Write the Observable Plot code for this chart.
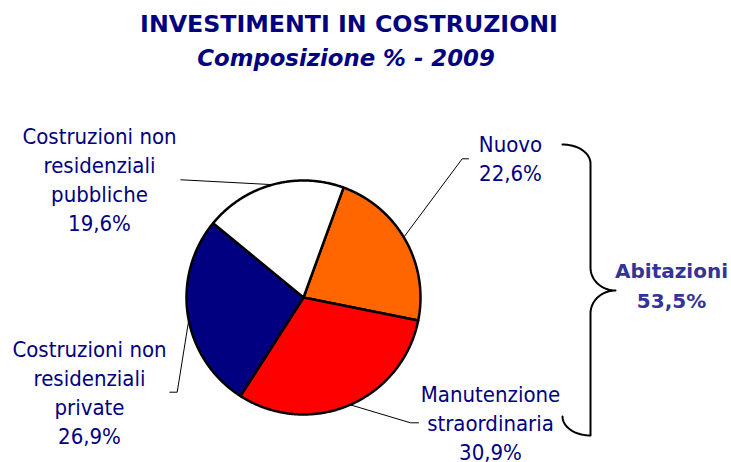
<!DOCTYPE html>
<html>
<head>
<meta charset="utf-8">
<script src="https://cdn.jsdelivr.net/npm/d3@7"></script>
<script src="https://cdn.jsdelivr.net/npm/@observablehq/plot@0.6"></script>
<style>
  html, body { margin: 0; padding: 0; background: #fff; }
  #wrap { width: 731px; height: 462px; position: relative; overflow: hidden; }
  #head { position: relative; width: 731px; height: 80px; }
  .t { position: absolute; white-space: nowrap; text-align: center; color: #000080; font-family: "DejaVu Sans", sans-serif; font-weight: bold; }
  #title { left: 0; width: 698px; top: 13px; font-size: 23.7px; line-height: 23.7px; }
  #subtitle { left: 0; width: 692px; top: 47px; font-size: 22.8px; line-height: 22.8px; font-style: italic; }
  svg { display: block; }
</style>
</head>
<body>
<div id="wrap">
  <div id="head">
    <div class="t" id="title">INVESTIMENTI IN COSTRUZIONI</div>
    <div class="t" id="subtitle">Composizione % - 2009</div>
  </div>
  <div id="chart"></div>
</div>
<script>
// ---- data ----
const categories = ["Nuovo", "Manutenzione straordinaria", "Costruzioni non residenziali private", "Costruzioni non residenziali pubbliche"];
const values = [22.6, 30.9, 26.9, 19.6];
const labelNames = ["Nuovo", "Manutenzione\nstraordinaria", "Costruzioni non\nresidenziali\nprivate", "Costruzioni non\nresidenziali\npubbliche"];
const sliceColors = ["#FF6600", "#FF0000", "#000080", "#FFFFFF"];
const groupName = "Abitazioni";
const groupValue = 53.5;
const groupMembers = ["Nuovo", "Manutenzione straordinaria"];

// ---- layout (pixels within the SVG) ----
const W = 731, H = 382;
const pie = {cx: 303, cy: 217, r: 117, startDeg: 20};
const lineGap = 29;
const labelLayout = {
  "Nuovo": {x: 510, y: 71.7, leader: [[468, 78.3], [461.7, 78.3]], edgeDeg: 59},
  "Manutenzione straordinaria": {x: 490, y: 321.7, leader: [[418, 342.3], [410, 342.3]], edgeDeg: 156.5},
  "Costruzioni non residenziali private": {x: 89, y: 276.7, leader: [[169.3, 311.7], [176.7, 311.7]], edgeDeg: 258.8},
  "Costruzioni non residenziali pubbliche": {x: 99, y: 63.3, leader: [[180.3, 99.3]], edgeDeg: 344.7}
};
const brace = {xEnd: 562, xMid: 590, xTip: 615, yTop: 64, yTip: 210, yBot: 355, curveTop: 19, curveMid: 23};
const groupLabel = {x: 671, y: 198};

const fmt = v => v.toFixed(1).replace(".", ",") + "%";
const rad = d => d * Math.PI / 180;
const polar = (deg, rr = pie.r) => [pie.cx + rr * Math.sin(rad(deg)), pie.cy - rr * Math.cos(rad(deg))];

// slices as closed polygons
const total = d3.sum(values);
const slicePts = [];
let acc = 0;
categories.forEach((c, i) => {
  const a0 = pie.startDeg + acc / total * 360;
  const a1 = a0 + values[i] / total * 360;
  acc += values[i];
  slicePts.push({name: c, x: pie.cx, y: pie.cy});
  const n = Math.ceil(a1 - a0) * 2;
  for (let k = 0; k <= n; k++) {
    const [x, y] = polar(a0 + (a1 - a0) * k / n);
    slicePts.push({name: c, x, y});
  }
});

// leaders
const leaderPts = [];
categories.forEach(c => {
  const L = labelLayout[c];
  L.leader.forEach(([x, y]) => leaderPts.push({id: c, x, y}));
  const [ex, ey] = polar(L.edgeDeg);
  leaderPts.push({id: c, x: ex, y: ey});
});

// labels
const labelRows = categories.map((c, i) => {
  const L = labelLayout[c];
  const text = labelNames[i] + "\n" + fmt(values[i]);
  const n = text.split("\n").length;
  return {x: L.x, y: L.y + (n - 1) * lineGap, text};
});

// brace
const bracePts = [];
const b = brace;
const arc = (fn, steps = 24) => { for (let k = 0; k <= steps; k++) bracePts.push(fn(Math.PI / 2 * k / steps)); };
arc(t => ({x: b.xEnd + (b.xMid - b.xEnd) * Math.sin(t), y: b.yTop + b.curveTop - b.curveTop * Math.cos(t)}));
arc(t => ({x: b.xTip - (b.xTip - b.xMid) * Math.cos(t), y: b.yTip - b.curveMid + b.curveMid * Math.sin(t)}));
arc(t => ({x: b.xTip - (b.xTip - b.xMid) * Math.sin(t), y: b.yTip + b.curveMid - b.curveMid * Math.cos(t)}));
arc(t => ({x: b.xMid - (b.xMid - b.xEnd) * Math.sin(t), y: b.yBot - b.curveTop + b.curveTop * Math.cos(t)}));

const labelFont = "'DejaVu Sans Condensed', 'DejaVu Sans', sans-serif";
const labelSize = 22;

const chart = Plot.plot({
  width: W,
  height: H,
  margin: 0,
  style: {background: "#fff", overflow: "visible"},
  x: {domain: [0, W], range: [0, W], axis: null},
  y: {domain: [0, H], range: [0, H], axis: null},
  color: {domain: categories, range: sliceColors},
  marks: [
    Plot.line(leaderPts, {x: "x", y: "y", z: "id", stroke: "#000", strokeWidth: 1}),
    Plot.line(slicePts, {x: "x", y: "y", z: "name", fill: "name", stroke: "#000", strokeWidth: 2.5, strokeLinejoin: "round", curve: "linear-closed"}),
    Plot.line(bracePts, {x: "x", y: "y", stroke: "#000", strokeWidth: 2, curve: "linear"}),
    Plot.text(labelRows, {x: "x", y: "y", text: "text", lineAnchor: "bottom", lineHeight: lineGap / labelSize, fontSize: labelSize, fontFamily: labelFont, fill: "#000080", textAnchor: "middle"}),
    Plot.text([{x: groupLabel.x, y: groupLabel.y + lineGap, text: groupName + "\n" + fmt(groupValue), members: groupMembers.join(",")}], {x: "x", y: "y", text: "text", lineAnchor: "bottom", lineHeight: 30 / 20, fontSize: 20, fontWeight: "bold", fontFamily: "'DejaVu Sans', sans-serif", fill: "#333399", textAnchor: "middle"})
  ]
});
document.getElementById("chart").appendChild(chart);
</script>
</body>
</html>
